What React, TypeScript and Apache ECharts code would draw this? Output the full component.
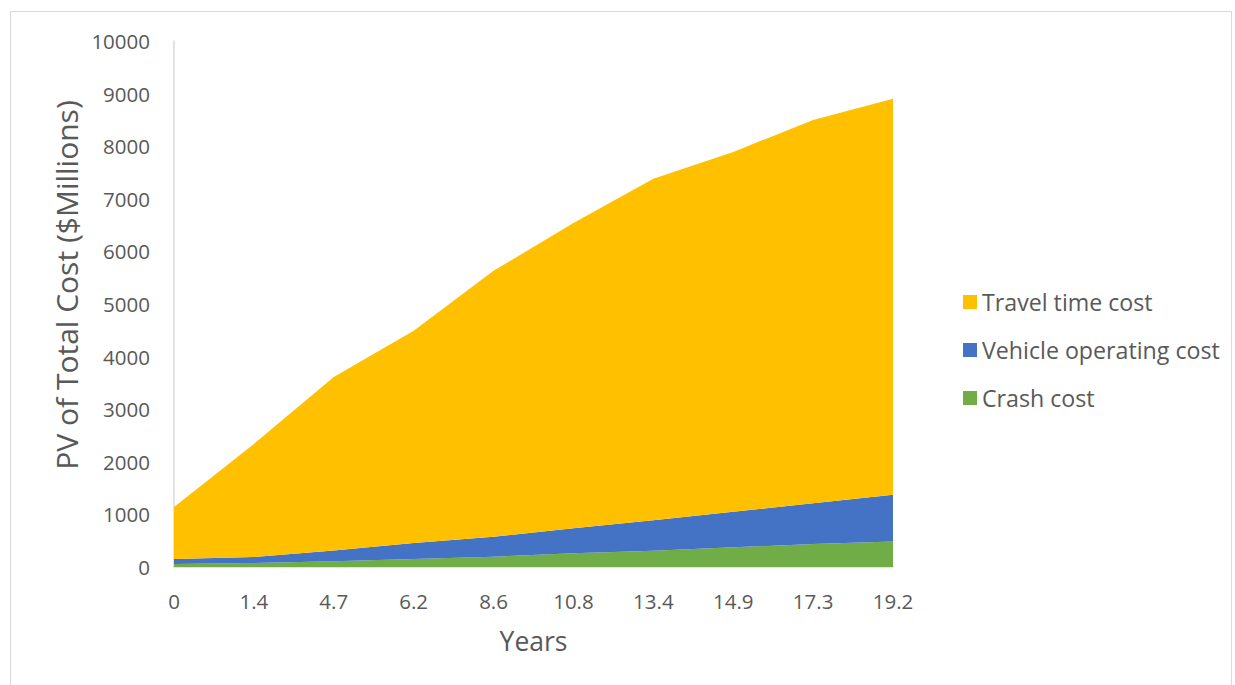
import React, { useEffect, useRef } from "react";
import * as echarts from "echarts";

const years = ["0", "1.4", "4.7", "6.2", "8.6", "10.8", "13.4", "14.9", "17.3", "19.2"];
const crashCost = [55, 75, 110, 150, 195, 260, 310, 375, 435, 485];
const vehicleOperatingCost = [95, 115, 205, 305, 380, 475, 580, 675, 775, 890];
const travelTimeCost = [990, 2150, 3295, 4035, 5055, 5805, 6490, 6840, 7290, 7525];
const yTitle = "PV of Total Cost ($Millions)";

const FONT = "'Open Sans', 'Noto Sans', sans-serif";
const GREY = "#595959";

export default function App() {
  const ref = useRef<HTMLDivElement>(null);
  useEffect(() => {
    if (!ref.current) return;
    const chart = echarts.init(ref.current, null, { renderer: "svg" });
    const mk = (name: string, data: number[], color: string) => ({
      name,
      type: "line",
      stack: "total",
      data,
      symbol: "none",
      showSymbol: false,
      lineStyle: { width: 0 },
      itemStyle: { color },
      areaStyle: { color, opacity: 1 },
    });
    chart.setOption({
      animation: false,
      backgroundColor: "#ffffff",
      textStyle: { fontFamily: FONT },
      graphic: [
        {
          type: "rect",
          shape: { x: 10.5, y: 11.5, width: 1221, height: 700 },
          style: { fill: "none", stroke: "#d9d9d9", lineWidth: 1 },
          silent: true,
        },
        {
          type: "text",
          x: 66,
          y: 285,
          rotation: Math.PI / 2,
          style: {
            text: yTitle,
            fontFamily: FONT,
            fontSize: 30,
            fill: GREY,
            align: "center",
            verticalAlign: "middle",
          },
          silent: true,
        },
      ],
      grid: { left: 174, right: 342, top: 41, bottom: 118, containLabel: false },
      legend: {
        orient: "vertical",
        left: 958,
        top: 285,
        icon: "rect",
        itemWidth: 14,
        itemHeight: 14,
        itemGap: 24,
        itemStyle: { borderWidth: 0 },
        data: ["Travel time cost", "Vehicle operating cost", "Crash cost"],
        textStyle: { fontFamily: FONT, fontSize: 23.2, color: GREY, lineHeight: 24 },
      },
      xAxis: {
        type: "category",
        data: years,
        boundaryGap: false,
        name: "Years",
        nameLocation: "middle",
        nameGap: 60,
        nameTextStyle: { fontFamily: FONT, fontSize: 26.5, color: GREY },
        axisLine: { show: true, lineStyle: { color: "#d9d9d9", width: 1.5 } },
        axisTick: { show: false },
        axisLabel: { fontFamily: FONT, fontSize: 20.5, color: GREY, margin: 23 },
        splitLine: { show: false },
      },
      yAxis: {
        type: "value",
        min: 0,
        max: 10000,
        interval: 1000,
        axisLine: { show: true, lineStyle: { color: "#d9d9d9", width: 1.5 } },
        axisTick: { show: false },
        axisLabel: {
          fontFamily: FONT,
          fontSize: 20.5,
          color: GREY,
          margin: 24,
          formatter: (v: number) => String(v),
        },
        splitLine: { show: false },
      },
      series: [
        mk("Crash cost", crashCost, "#70AD47"),
        mk("Vehicle operating cost", vehicleOperatingCost, "#4472C4"),
        mk("Travel time cost", travelTimeCost, "#FFC000"),
      ],
    });
    return () => chart.dispose();
  }, []);
  return (
    <div
      ref={ref}
      style={{ position: "fixed", left: 0, top: 0, width: 1235, height: 685 }}
    />
  );
}
